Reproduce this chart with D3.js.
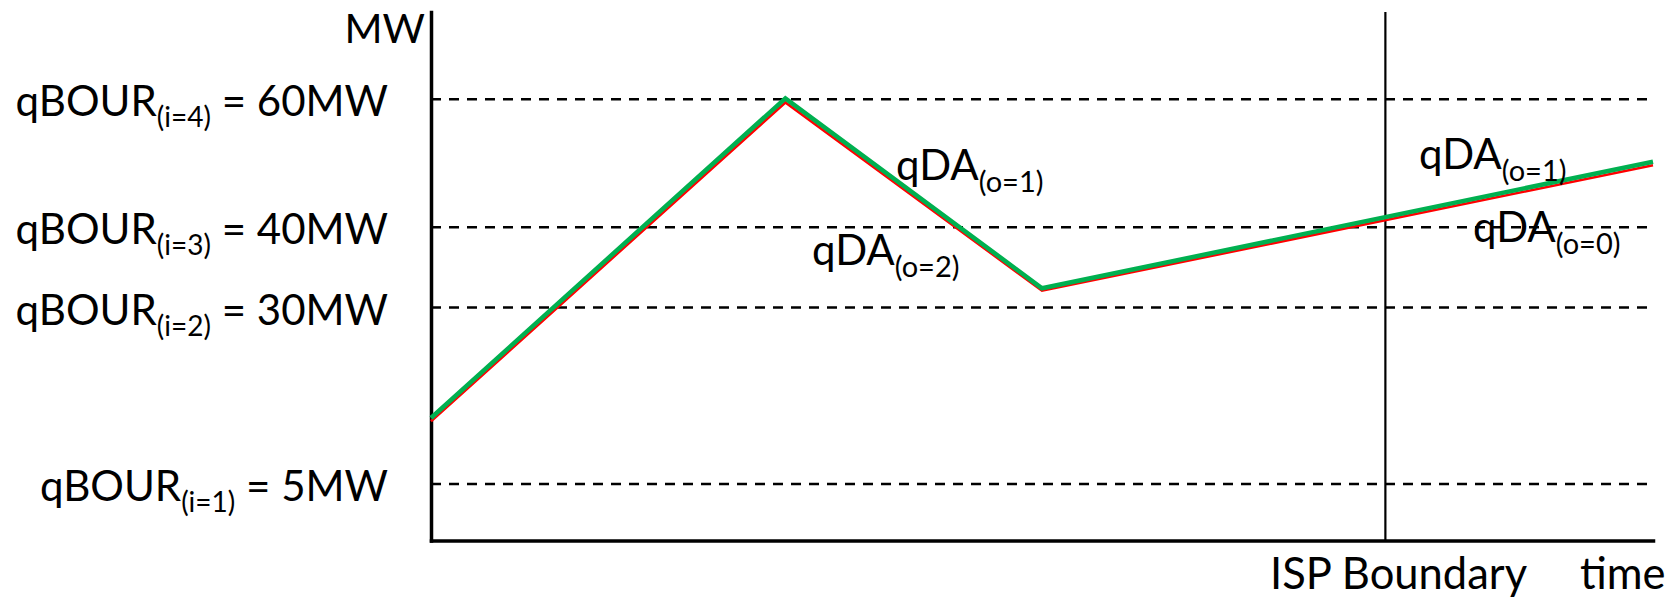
<!DOCTYPE html>
<html>
<head>
<meta charset="utf-8">
<script src="https://cdn.jsdelivr.net/npm/d3@7"></script>
<style>
  html, body { margin: 0; padding: 0; background: #fff; }
  svg { display: block; }
  text { font-family: Lato, "Open Sans", sans-serif; fill: #000; }
</style>
</head>
<body>
<svg id="chart" width="1680" height="603"></svg>
<script>
// ---- data ----
const levelValues = [5, 30, 40, 60];                 // qBOUR levels (MW)
const levelIndex  = ["(i=1)", "(i=2)", "(i=3)", "(i=4)"];
const levelText   = [" = 5MW", " = 30MW", " = 40MW", " = 60MW"];
const times       = [0, 29, 50, 100];                // schematic time
const greenSeries = [14.35, 60.15, 32.4, 50.25];     // MW
const redSeries   = [13.9, 59.5, 32.1, 49.7];        // MW
const ispBoundary = 78.1;                            // time of ISP boundary
const annotations = [
  { main: "qDA", sub: "(o=1)" },
  { main: "qDA", sub: "(o=2)" },
  { main: "qDA", sub: "(o=1)" },
  { main: "qDA", sub: "(o=0)" }
];

// ---- layout ----
const svg = d3.select("#chart");
const x = d3.scaleLinear().domain([0, 100]).range([431, 1653]);
// schematic (piecewise) MW axis
const y = d3.scaleLinear()
  .domain([0, 5, 30, 40, 60, 73.7])
  .range([540.5, 484, 307.5, 227.3, 99.3, 12]);

const FS = 42, SUB = 28;

// dashed level lines
svg.append("g").selectAll("line").data(levelValues).join("line")
  .attr("x1", x(0)).attr("x2", x(100))
  .attr("y1", d => y(d)).attr("y2", d => y(d))
  .attr("stroke", "#000").attr("stroke-width", 2.5)
  .attr("stroke-dasharray", "10,8");

// ISP boundary line
svg.append("line")
  .attr("x1", x(ispBoundary)).attr("x2", x(ispBoundary))
  .attr("y1", y.range()[5]).attr("y2", y(0))
  .attr("stroke", "#000").attr("stroke-width", 2.2);

// axes (no ticks)
const yAxis = d3.axisLeft(y).tickValues([]).tickSizeOuter(0);
const xAxis = d3.axisBottom(x).tickValues([]).tickSizeOuter(0);
const gy = svg.append("g").attr("transform", `translate(${x(0)},0)`).call(yAxis);
const gx = svg.append("g").attr("transform", `translate(0,${y(0)})`).call(xAxis);
[gy, gx].forEach(g => g.select(".domain").attr("stroke", "#000").attr("stroke-width", 3.5).attr("stroke-linecap", "square"));

// series lines
const line = d3.line().x((d, i) => x(times[i])).y(d => y(d));
svg.append("path").datum(redSeries).attr("d", line)
  .attr("fill", "none").attr("stroke", "#FF0000").attr("stroke-width", 2.6)
  .attr("stroke-linejoin", "miter");
svg.append("path").datum(greenSeries).attr("d", line)
  .attr("fill", "none").attr("stroke", "#00B050").attr("stroke-width", 4.5)
  .attr("stroke-linejoin", "miter");

// helper: text with subscript
function subText(g, px, py, anchor, main, sub, tail, subShift, subSize) {
  const t = g.append("text").attr("x", px).attr("y", py)
    .attr("text-anchor", anchor).attr("font-size", FS);
  t.append("tspan").text(main);
  t.append("tspan").attr("font-size", subSize).attr("dy", subShift).text(sub);
  if (tail) t.append("tspan").attr("dy", -subShift).text(tail);
  return t;
}

// level labels
const gl = svg.append("g");
levelValues.forEach((v, i) => {
  subText(gl, 388, y(v) + 17, "end", "qBOUR", levelIndex[i], levelText[i], 11, SUB);
});

// MW axis title
svg.append("text").attr("x", 425).attr("y", 43).attr("text-anchor", "end")
  .attr("font-size", 41).text("MW");

// x labels
svg.append("text").attr("x", 1270).attr("y", 589).attr("font-size", 43.5).text("ISP Boundary");
svg.append("text").attr("x", 1580).attr("y", 589).attr("font-size", 43.5).text("time");

// qDA annotations
const annPos = [[896, 180], [812, 265], [1419, 169], [1473, 242]];
const ga = svg.append("g");
annotations.forEach((a, i) => {
  subText(ga, annPos[i][0], annPos[i][1], "start", a.main, a.sub, null, 12, 29);
});
</script>
</body>
</html>
